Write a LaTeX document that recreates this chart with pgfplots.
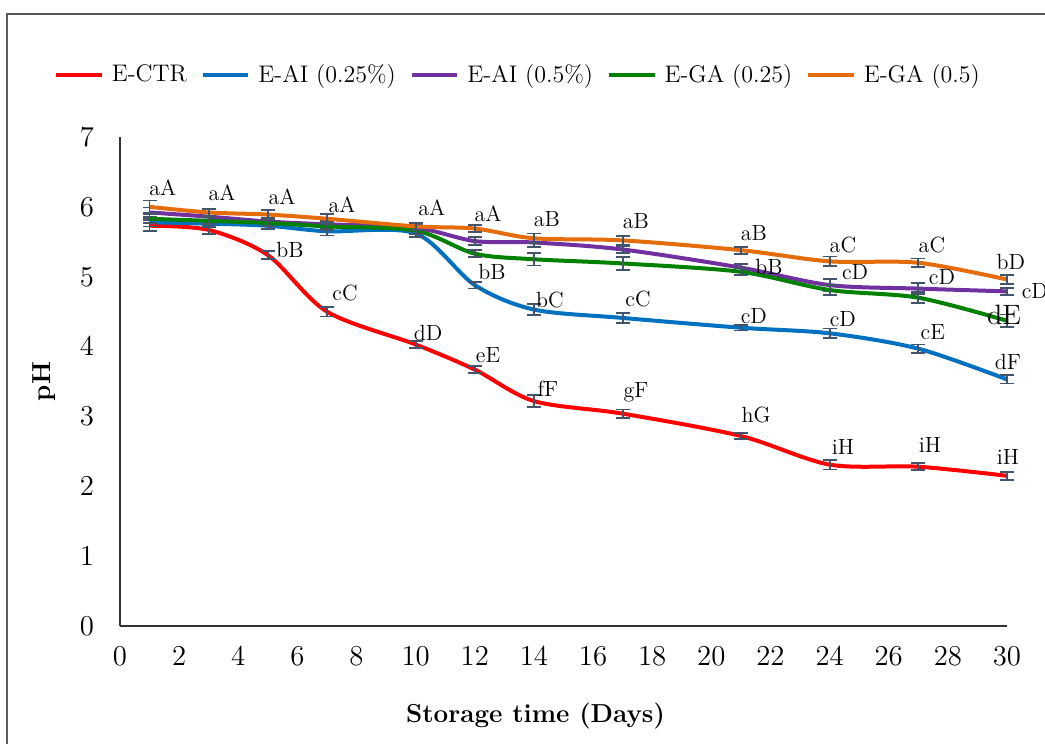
\documentclass[border=0pt]{standalone}
\usepackage{pgfplots}
\usepackage{pgfplotstable}
\pgfplotsset{compat=1.18}

\definecolor{cred}{HTML}{FF0000}
\definecolor{cblue}{HTML}{0070C0}
\definecolor{cpurple}{HTML}{7030A0}
\definecolor{cgreen}{HTML}{008000}
\definecolor{corange}{HTML}{E46C0A}
\definecolor{errc}{HTML}{44546A}

\pgfplotstableread{
x y e
1 5.73 0.08
3 5.67 0.06
5 5.31 0.06
7 4.50 0.07
10 4.03 0.05
12 3.67 0.05
14 3.22 0.09
17 3.04 0.06
21 2.72 0.04
24 2.31 0.07
27 2.28 0.05
30 2.15 0.06
}\ctr
\pgfplotstableread{
x y e
1 5.78 0.06
3 5.76 0.05
5 5.73 0.05
7 5.65 0.06
10 5.62 0.05
12 4.88 0.05
14 4.53 0.08
17 4.41 0.07
21 4.27 0.04
24 4.19 0.07
27 3.97 0.06
30 3.53 0.06
}\aiA
\pgfplotstableread{
x y e
1 5.92 0.07
3 5.86 0.05
5 5.79 0.05
7 5.75 0.05
10 5.70 0.05
12 5.51 0.06
14 5.49 0.06
17 5.39 0.05
21 5.13 0.05
24 4.88 0.09
27 4.83 0.08
30 4.79 0.05
}\aiB
\pgfplotstableread{
x y e
1 5.83 0.06
3 5.80 0.05
5 5.77 0.05
7 5.72 0.05
10 5.66 0.05
12 5.33 0.05
14 5.25 0.09
17 5.19 0.09
21 5.07 0.05
24 4.81 0.07
27 4.70 0.08
30 4.37 0.09
}\gaA
\pgfplotstableread{
x y e
1 6.00 0.09
3 5.92 0.05
5 5.89 0.07
7 5.83 0.07
10 5.72 0.05
12 5.69 0.05
14 5.55 0.07
17 5.52 0.06
21 5.38 0.05
24 5.22 0.07
27 5.20 0.06
30 4.96 0.06
}\gaB

\begin{document}
\begin{tikzpicture}
\path[use as bounding box] (-60pt,-59pt) rectangle (462.5pt,313pt);
\draw[gray!70!black, line width=0.8pt] (-56.5pt,-70pt) -- (-56.5pt,306pt) -- (470pt,306pt);
\begin{axis}[
    scale only axis,
    width=443.5pt, height=244.5pt,
    xmin=0, xmax=30, ymin=0, ymax=7,
    axis x line*=bottom, axis y line*=left,
    axis line style={line width=0.9pt, black!80},
    xtick={0,2,...,30}, ytick={0,1,...,7},
    tick style={draw=none},
    tick label style={font=\fontsize{14}{16}\selectfont},
    xticklabel style={yshift=-7pt},
    yticklabel style={xshift=-9.5pt},
    xlabel={\textbf{Storage time (Days)}},
    ylabel={\textbf{pH}},
    label style={font=\fontsize{13}{15}\selectfont},
    xlabel style={yshift=-12pt, xshift=-14pt},
    ylabel style={yshift=5.5pt},
    clip=false,
    legend columns=-1,
    legend style={at={(-0.0812,1.1268)}, anchor=west, draw=none, fill=none,
        font=\fontsize{12}{14}\selectfont,
        /tikz/every odd column/.append style={column sep=2pt},
        /tikz/every even column/.append style={column sep=5pt}},
    legend image code/.code={\draw[#1, line width=2pt] (0cm,0cm) -- (0.8cm,0cm);},
    every axis plot/.append style={line width=2pt, smooth, tension=0.5, no marks,
        error bars/y dir=both, error bars/y explicit,
        error bars/error bar style={line width=0.9pt, errc, solid},
        error bars/error mark options={rotate=90, mark size=3.5pt, line width=0.9pt, errc}},
]
\addplot[cred] table[x=x, y=y, y error=e] {\ctr};
\addlegendentry{E-CTR}
\addplot[cblue] table[x=x, y=y, y error=e] {\aiA};
\addlegendentry{E-AI (0.25\%)}
\addplot[cpurple] table[x=x, y=y, y error=e] {\aiB};
\addlegendentry{E-AI (0.5\%)}
\addplot[cgreen] table[x=x, y=y, y error=e] {\gaA};
\addlegendentry{E-GA (0.25)}
\addplot[corange] table[x=x, y=y, y error=e] {\gaB};
\addlegendentry{E-GA (0.5)}

\begin{scope}[every node/.style={font=\fontsize{11}{13}\selectfont, inner sep=0pt}]
% top row
\node at (axis cs:1.45,6.27) {aA};
\node at (axis cs:3.45,6.20) {aA};
\node at (axis cs:5.48,6.15) {aA};
\node at (axis cs:7.51,6.03) {aA};
\node at (axis cs:10.55,5.99) {aA};
\node at (axis cs:12.45,5.90) {aA};
\node at (axis cs:14.44,5.83) {aB};
\node at (axis cs:17.45,5.79) {aB};
\node at (axis cs:21.44,5.63) {aB};
\node at (axis cs:24.45,5.46) {aC};
\node at (axis cs:27.46,5.46) {aC};
\node at (axis cs:30.13,5.21) {bD};
% E-CTR
\node at (axis cs:5.75,5.39) {bB};
\node at (axis cs:7.61,4.76) {cC};
\node at (axis cs:10.42,4.20) {dD};
\node at (axis cs:12.45,3.88) {eE};
\node at (axis cs:14.47,3.40) {fF};
\node at (axis cs:17.45,3.35) {gF};
\node at (axis cs:21.51,3.02) {hG};
\node at (axis cs:24.45,2.56) {iH};
\node at (axis cs:27.39,2.59) {iH};
\node at (axis cs:30.03,2.42) {iH};
% E-AI (0.25%)
\node at (axis cs:12.58,5.07) {bB};
\node at (axis cs:14.54,4.67) {bC};
\node at (axis cs:17.52,4.68) {cC};
\node at (axis cs:21.44,4.44) {cD};
\node at (axis cs:24.45,4.40) {cD};
\node at (axis cs:27.49,4.20) {cE};
\node at (axis cs:30.03,3.78) {dF};
% E-AI (0.5%) / E-GA (0.25)
\node at (axis cs:21.95,5.14) {bB};
\node at (axis cs:24.86,5.07) {cD};
\node at (axis cs:27.80,5.00) {cD};
\node at (axis cs:30.94,4.79) {cD};
\node[font=\fontsize{14}{16}\selectfont] at (axis cs:29.9,4.46) {dE};
\end{scope}
\end{axis}
\end{tikzpicture}
\end{document}
